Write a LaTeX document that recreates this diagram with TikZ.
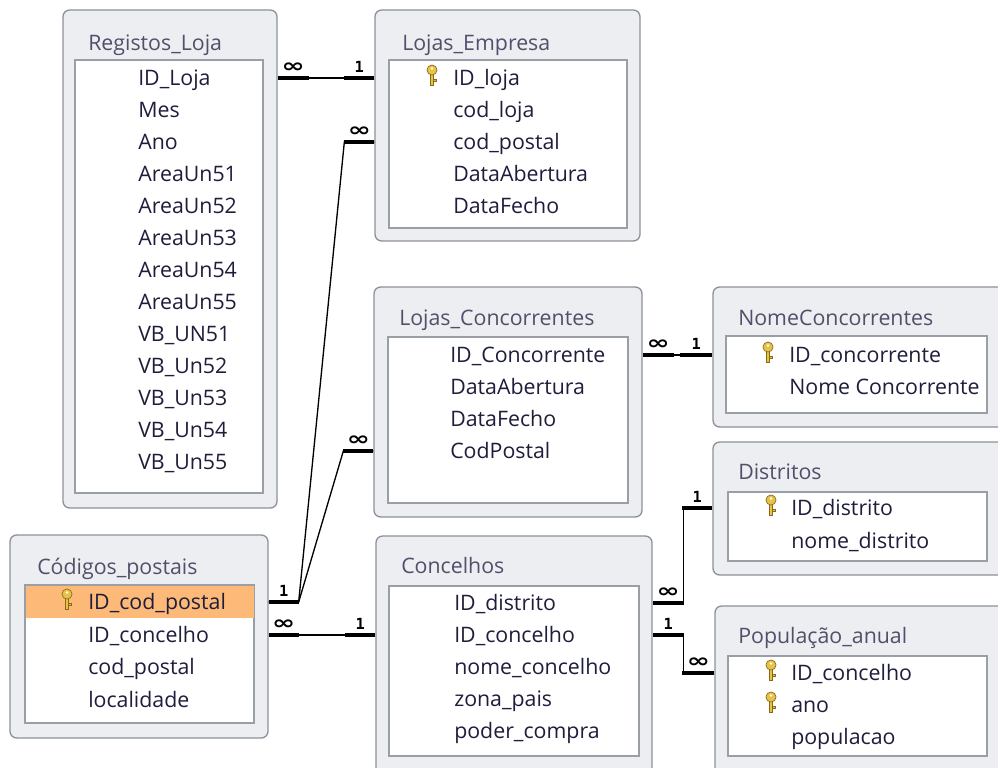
\documentclass[tikz,border=0pt]{standalone}
\usepackage{fontspec}
\setmainfont{Open Sans}
\newfontfamily\cardfont{DejaVu Sans Mono}
\newfontfamily\inffont{DejaVu Sans}
\usetikzlibrary{calc,fit}
\definecolor{framefill}{HTML}{ECEEF2}
\definecolor{frameline}{HTML}{8C9199}
\definecolor{boxline}{HTML}{9A9FA6}
\definecolor{titletext}{HTML}{50506A}
\definecolor{rowtext}{HTML}{1E1E3C}
\definecolor{pkrow}{HTML}{FDB978}
\definecolor{keygold}{HTML}{E6C24A}
\definecolor{keyedge}{HTML}{8A6A14}
\newcommand{\infsym}{\scalebox{1.6}[1.1]{\fontsize{13}{13}\selectfont\inffont\bfseries ∞}}
\newcommand{\onesym}{{\fontsize{11.5}{11.5}\selectfont\cardfont\bfseries 1}}
\tikzset{
frame/.style    = {draw=frameline, fill=framefill, line width=1pt, rounded corners=5pt, inner sep=0pt},
fieldbox/.style = {draw=boxline, fill=white, line width=1pt, inner sep=0pt},
pkfill/.style   = {fill=pkrow, inner sep=0pt},
title/.style    = {anchor=west, inner sep=0pt, text height=11.5pt, text depth=0pt, text=titletext},
field/.style    = {anchor=west, inner sep=0pt, text height=11.5pt, text depth=0pt, text=rowtext},
rel/.style      = {line width=1pt},
card/.style     = {line width=3pt},
cardlbl/.style  = {above, inner sep=2.5pt},
pics/pkey/.style = {code={
  \draw[keyedge, fill=keygold, line width=0.5pt] (-1.6,-4) rectangle (1.6,7);
  \draw[keyedge, fill=keygold, line width=0.5pt] (1.6,1) -- (4,1) -- (4,3.5) -- (1.6,3.5);
  \draw[keyedge, fill=keygold, line width=0.5pt] (0,-8) circle (3.8pt);
  \fill[white] (0,-9.5) circle (1.1pt);
}}
}

\begin{document}
\begin{tikzpicture}[x=0.75pt, y=-0.75pt, font=\fontsize{16}{19}\selectfont]
  \useasboundingbox (0,0) rectangle (998,767);
  \clip (0,0) rectangle (998,767);

  % table frames
  \node [frame, fit={(63,10) (277,508)}]    (rl) {};
  \node [frame, fit={(375,10) (640,241)}]   (le) {};
  \node [frame, fit={(374,287) (642,517)}]  (lc) {};
  \node [frame, fit={(713,287) (1010,427)}] (nc) {};
  \node [frame, fit={(713,442) (1010,575)}] (di) {};
  \node [frame, fit={(376,536) (652,790)}]  (co) {};
  \node [frame, fit={(715,606) (1010,790)}] (pa) {};
  \node [frame, fit={(10,535) (268,738)}]   (cp) {};

  % field lists
  \node [fieldbox, fit={(75,60) (263,493)}]   (rlb) {};
  \node [fieldbox, fit={(389,60) (627,228)}]  (leb) {};
  \node [fieldbox, fit={(388,337) (628,503)}] (lcb) {};
  \node [fieldbox, fit={(726,336) (987,413)}] (ncb) {};
  \node [fieldbox, fit={(728,492) (987,561)}] (dib) {};
  \node [fieldbox, fit={(389,586) (639,756)}] (cob) {};
  \node [fieldbox, fit={(728,656) (987,756)}] (pab) {};
  \node [fieldbox, fit={(25,585) (254,723)}]  (cpb) {};
  \node [pkfill, fit={(25.5,585.5) (253.5,618)}] (cphl) {};

  % titles
  \node [title] (rlt) at (88,43)  {Registos\_Loja};
  \node [title] (let) at (402,43) {Lojas\_Empresa};
  \node [title] (lct) at (399,318) {Lojas\_Concorrentes};
  \node [title] (nct) at (738,318) {NomeConcorrentes};
  \node [title] (dit) at (738,472) {Distritos};
  \node [title] (cot) at (401,566) {Concelhos};
  \node [title] (pat) at (738,636) {População\_anual};
  \node [title] (cpt) at (37,567)  {Códigos\_postais};

  % Registos_Loja
  \node [field] (rlid)   at (138,78)  {ID\_Loja};
  \node [field] (rlmes)  at (138,110) {Mes};
  \node [field] (rlano)  at (138,142) {Ano};
  \node [field] (rla51)  at (138,174) {AreaUn51};
  \node [field] (rla52)  at (138,206) {AreaUn52};
  \node [field] (rla53)  at (138,238) {AreaUn53};
  \node [field] (rla54)  at (138,270) {AreaUn54};
  \node [field] (rla55)  at (138,302) {AreaUn55};
  \node [field] (rlvb51) at (138,334) {VB\_UN51};
  \node [field] (rlvb52) at (138,366) {VB\_Un52};
  \node [field] (rlvb53) at (138,398) {VB\_Un53};
  \node [field] (rlvb54) at (138,430) {VB\_Un54};
  \node [field] (rlvb55) at (138,462) {VB\_Un55};

  % Lojas_Empresa
  \node [field] (leid)  at (453,78)  {ID\_loja};
  \node [field] (lecod) at (453,110) {cod\_loja};
  \node [field] (lecp)  at (453,142) {cod\_postal};
  \node [field] (ledab) at (453,174) {DataAbertura};
  \node [field] (ledfe) at (453,206) {DataFecho};

  % Lojas_Concorrentes
  \node [field] (lcid)  at (450,355) {ID\_Concorrente};
  \node [field] (lcdab) at (450,387) {DataAbertura};
  \node [field] (lcdfe) at (450,419) {DataFecho};
  \node [field] (lccp)  at (450,451) {CodPostal};

  % NomeConcorrentes, Distritos
  \node [field] (ncid)   at (789,355) {ID\_concorrente};
  \node [field] (ncnome) at (789,387) {Nome Concorrente};
  \node [field] (diid)   at (791,508) {ID\_distrito};
  \node [field] (dinome) at (791,541) {nome\_distrito};

  % Concelhos
  \node [field] (codist)  at (454,603) {ID\_distrito};
  \node [field] (coconc)  at (454,635) {ID\_concelho};
  \node [field] (conome)  at (454,667) {nome\_concelho};
  \node [field] (cozona)  at (454,699) {zona\_pais};
  \node [field] (copoder) at (454,731) {poder\_compra};

  % População_anual
  \node [field] (paid)  at (791,673) {ID\_concelho};
  \node [field] (paano) at (791,705) {ano};
  \node [field] (papop) at (791,737) {populacao};

  % Códigos_postais
  \node [field] (cpid)   at (88,602) {ID\_cod\_postal};
  \node [field] (cpconc) at (88,635) {ID\_concelho};
  \node [field] (cpcod)  at (88,667) {cod\_postal};
  \node [field] (cploc)  at (88,700) {localidade};

  % primary keys
  \pic at (432,78)  {pkey};
  \pic at (768,355) {pkey};
  \pic at (771,508) {pkey};
  \pic at (771,673) {pkey};
  \pic at (771,705) {pkey};
  \pic at (67,602)  {pkey};

  % relationships
  \draw [rel] (rl.east |- rlid) -- (le.west |- leid);
  \draw [card] (rl.east |- rlid) -- ++(31,0) node [cardlbl, midway] {\infsym};
  \draw [card] (le.west |- leid) -- ++(-30,0) node [cardlbl, midway] {\onesym};

  \draw [rel] (cp.east |- cpid) -- ++(30,0) -- ($(le.west |- lecp)+(-30,0)$) -- (le.west |- lecp);
  \draw [card] (cp.east |- cpid) -- ++(30,0) node [cardlbl, midway] {\onesym};
  \draw [card] (le.west |- lecp) -- ++(-30,0) node [cardlbl, midway] {\infsym};

  \draw [rel] ($(cp.east |- cpid)+(30,0)$) -- ($(lc.west |- lccp)+(-30,0)$) -- (lc.west |- lccp);
  \draw [card] (lc.west |- lccp) -- ++(-30,0) node [cardlbl, midway] {\infsym};

  \draw [rel] (cp.east |- cpconc) -- (co.west |- coconc);
  \draw [card] (cp.east |- cpconc) -- ++(30,0) node [cardlbl, midway] {\infsym};
  \draw [card] (co.west |- coconc) -- ++(-30,0) node [cardlbl, midway] {\onesym};

  \draw [rel] (lc.east |- lcid) -- (nc.west |- ncid);
  \draw [card] (lc.east |- lcid) -- ++(31,0) node [cardlbl, midway] {\infsym};
  \draw [card] (nc.west |- ncid) -- ++(-32,0) node [cardlbl, midway] {\onesym};

  \draw [rel] (co.east |- codist) -- ++(31,0) |- (di.west |- diid);
  \draw [card] (co.east |- codist) -- ++(31,0) node [cardlbl, midway] {\infsym};
  \draw [card] (di.west |- diid) -- ++(-30,0) node [cardlbl, midway] {\onesym};

  \draw [rel] (co.east |- coconc) -- ++(31,0) |- (pa.west |- paid);
  \draw [card] (co.east |- coconc) -- ++(31,0) node [cardlbl, midway] {\onesym};
  \draw [card] (pa.west |- paid) -- ++(-32,0) node [cardlbl, midway] {\infsym};
\end{tikzpicture}
\end{document}
